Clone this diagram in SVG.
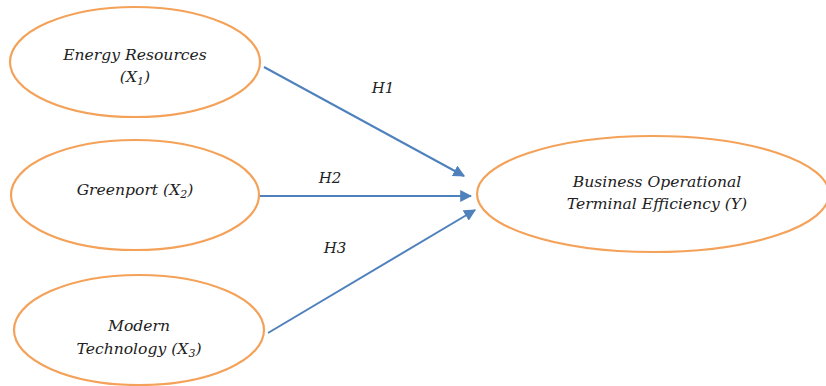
<svg xmlns="http://www.w3.org/2000/svg" width="826" height="386" viewBox="0 0 826 386">
<defs>
<style>
.node{fill:#fff;stroke:#f4a259;stroke-width:2.2}
.t{font-family:'DejaVu Serif',serif;font-style:italic;font-size:15.6px;fill:#222;text-anchor:middle}
.c{stroke:#4f81bd;stroke-width:2;fill:none}
.l{font-family:'DejaVu Serif',serif;font-style:italic;font-size:15px;fill:#222;text-anchor:middle}
</style>
<marker id="ah" viewBox="0 0 10 10" refX="9" refY="5" markerWidth="6" markerHeight="6" markerUnits="strokeWidth" orient="auto">
<path d="M0,0 L10,5 L0,10 z" fill="#4f81bd"/>
</marker>
</defs>
<rect width="826" height="386" fill="#fff"/>
<g id="connectors">
<line class="c" x1="264" y1="67" x2="464" y2="176" marker-end="url(#ah)"/>
<line class="c" x1="260" y1="196" x2="471" y2="196" marker-end="url(#ah)"/>
<line class="c" x1="268" y1="333" x2="475" y2="210" marker-end="url(#ah)"/>
<text class="l" x="383" y="93">H1</text>
<text class="l" x="330" y="183">H2</text>
<text class="l" x="335" y="253">H3</text>
</g>
<g id="n1">
<ellipse class="node" cx="135" cy="62" rx="125" ry="55"/>
<text class="t" x="135" y="60">Energy Resources</text>
<text class="t" x="135" y="82">(X<tspan font-size="11" dy="3">1</tspan><tspan dy="-3">)</tspan></text>
</g>
<g id="n2">
<ellipse class="node" cx="135" cy="195" rx="124" ry="55"/>
<text class="t" x="135" y="195">Greenport (X<tspan font-size="11" dy="3">2</tspan><tspan dy="-3">)</tspan></text>
</g>
<g id="n3">
<ellipse class="node" cx="139" cy="330" rx="125" ry="55"/>
<text class="t" x="139" y="331">Modern</text>
<text class="t" x="139" y="354">Technology (X<tspan font-size="11" dy="3">3</tspan><tspan dy="-3">)</tspan></text>
</g>
<g id="y">
<ellipse class="node" cx="653" cy="194" rx="176" ry="58"/>
<text class="t" x="657" y="187">Business Operational</text>
<text class="t" x="657" y="209">Terminal Efficiency (Y)</text>
</g>
</svg>
